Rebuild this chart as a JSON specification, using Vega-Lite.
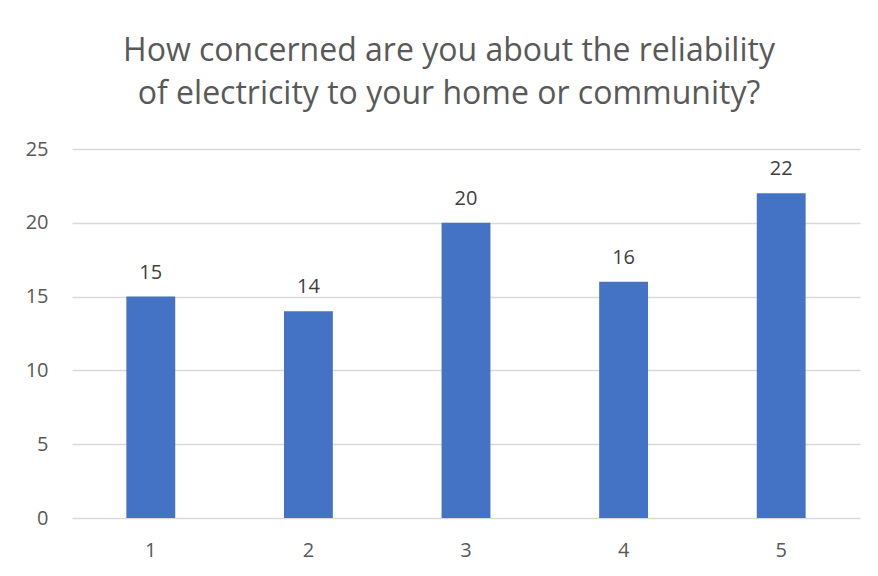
{
  "$schema": "https://vega.github.io/schema/vega-lite/v6.json",
  "width": 788,
  "height": 369,
  "autosize": {"type": "none"},
  "padding": {"left": 72, "top": 149, "right": 18, "bottom": 58},
  "background": "white",
  "config": {
    "view": {"stroke": null},
    "font": "Open Sans"
  },
  "title": {
    "text": ["How concerned are you about the reliability", "of electricity to your home or community?"],
    "font": "Open Sans",
    "fontSize": 32,
    "fontWeight": "normal",
    "color": "#595959",
    "anchor": "middle",
    "baseline": "alphabetic",
    "dx": -17,
    "offset": 3,
    "lineHeight": 43
  },
  "data": {
    "values": [
      {"rating": "1", "count": 15},
      {"rating": "2", "count": 14},
      {"rating": "3", "count": 20},
      {"rating": "4", "count": 16},
      {"rating": "5", "count": 22}
    ]
  },
  "encoding": {
    "x": {
      "field": "rating",
      "type": "nominal",
      "sort": null,
      "scale": {"paddingInner": 0.69, "paddingOuter": 0.345},
      "axis": {
        "title": null,
        "labelAngle": 0,
        "labelFontSize": 20,
        "labelColor": "#595959",
        "labelPadding": 22,
        "ticks": false,
        "domain": false,
        "grid": false
      }
    },
    "y": {
      "field": "count",
      "type": "quantitative",
      "scale": {"domain": [0, 25]},
      "axis": {
        "title": null,
        "values": [0, 5, 10, 15, 20, 25],
        "labelFontSize": 20,
        "labelColor": "#595959",
        "labelPadding": 24,
        "ticks": false,
        "domain": false,
        "gridColor": "#d9d9d9",
        "gridWidth": 1.5
      }
    }
  },
  "layer": [
    {"mark": {"type": "bar", "color": "#4472c4"}},
    {
      "mark": {"type": "text", "baseline": "alphabetic", "dy": -18, "fontSize": 20, "color": "#404040", "font": "Open Sans"},
      "encoding": {"text": {"field": "count", "type": "quantitative"}}
    }
  ]
}
